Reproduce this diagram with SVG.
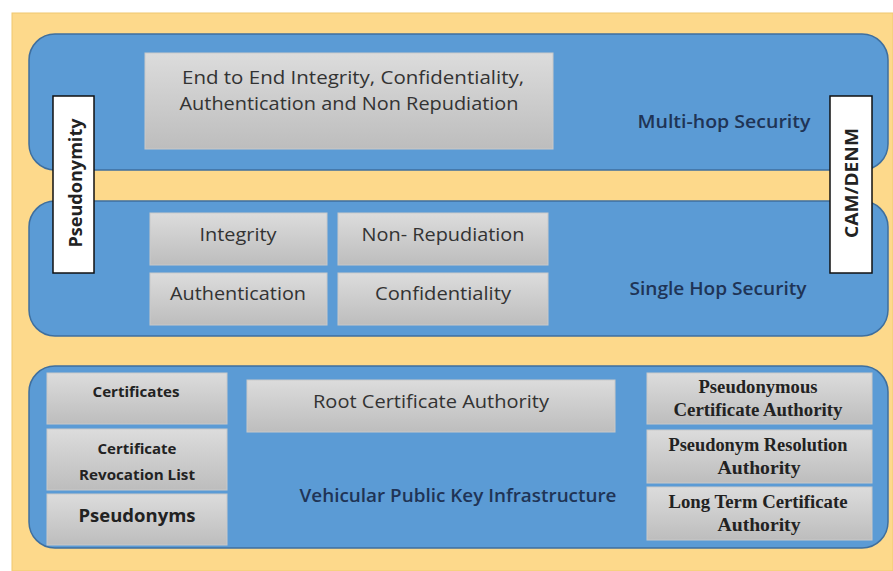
<svg xmlns="http://www.w3.org/2000/svg" width="893" height="571" viewBox="0 0 893 571">
<defs>
<linearGradient id="gray" x1="0" y1="0" x2="0" y2="1">
<stop offset="0" stop-color="#dcdcdc"/>
<stop offset="1" stop-color="#bdbdbd"/>
</linearGradient>
<style>
.layer{fill:#5b9bd5;stroke:#3f6f9e;stroke-width:1.5}
.box{fill:url(#gray);stroke:#c9c9c9;stroke-width:1}
.side{fill:#ffffff;stroke:#111;stroke-width:1.5}
.t{font-family:"Open Sans",sans-serif;fill:#333;text-anchor:middle;font-size:18px}
.lbl{font-family:"Open Sans",sans-serif;font-weight:600;fill:#1f3456;text-anchor:middle;font-size:17.5px}
.b{font-family:"Open Sans",sans-serif;font-weight:bold;fill:#222;text-anchor:middle}
.s{font-family:"Liberation Serif",serif;font-weight:bold;fill:#222;text-anchor:middle;font-size:18px}
</style>
</defs>
<rect x="0" y="0" width="893" height="571" fill="#ffffff"/>
<rect x="12" y="13" width="881" height="558" fill="#fdd98b" stroke="#f0c870" stroke-width="1"/>

<g id="multihop">
<rect class="layer" x="29" y="34" width="859" height="136" rx="26"/>
<text class="lbl" x="724" y="128" textLength="173" lengthAdjust="spacingAndGlyphs">Multi-hop Security</text>
</g>
<g id="e2e">
<rect class="box" x="145" y="53" width="408" height="96"/>
<text class="t" x="353" y="84" textLength="342" lengthAdjust="spacingAndGlyphs">End to End Integrity, Confidentiality,</text>
<text class="t" x="349" y="110" textLength="339" lengthAdjust="spacingAndGlyphs">Authentication and Non Repudiation</text>
</g>

<g id="singlehop">
<rect class="layer" x="29" y="201" width="859" height="135" rx="26"/>
<text class="lbl" x="718" y="295" textLength="177" lengthAdjust="spacingAndGlyphs">Single Hop Security</text>
</g>
<g id="integrity">
<rect class="box" x="150" y="213" width="177" height="52"/>
<text class="t" x="238" y="241" textLength="77" lengthAdjust="spacingAndGlyphs">Integrity</text>
</g>
<g id="nonrep">
<rect class="box" x="338" y="213" width="210" height="52"/>
<text class="t" x="443" y="241" textLength="163" lengthAdjust="spacingAndGlyphs">Non- Repudiation</text>
</g>
<g id="auth">
<rect class="box" x="150" y="273" width="177" height="52"/>
<text class="t" x="238" y="300" textLength="136" lengthAdjust="spacingAndGlyphs">Authentication</text>
</g>
<g id="conf">
<rect class="box" x="338" y="273" width="210" height="52"/>
<text class="t" x="443" y="300" textLength="136" lengthAdjust="spacingAndGlyphs">Confidentiality</text>
</g>

<g id="pseudonymity">
<rect class="side" x="53" y="96" width="41" height="177"/>
<text class="b" font-size="18" transform="translate(82 183) rotate(-90)" textLength="129" lengthAdjust="spacingAndGlyphs">Pseudonymity</text>
</g>
<g id="camdenm">
<rect class="side" x="830" y="96" width="42" height="177"/>
<text class="b" font-size="18" transform="translate(858 183) rotate(-90)" textLength="110" lengthAdjust="spacingAndGlyphs">CAM/DENM</text>
</g>

<g id="vpki">
<rect class="layer" x="29" y="366" width="859" height="182" rx="26"/>
<text class="lbl" x="458" y="502" textLength="317" lengthAdjust="spacingAndGlyphs">Vehicular Public Key Infrastructure</text>
</g>
<g id="certificates">
<rect class="box" x="47" y="373" width="180" height="51"/>
<text class="b" x="136" y="397" font-size="15" textLength="87" lengthAdjust="spacingAndGlyphs">Certificates</text>
</g>
<g id="crl">
<rect class="box" x="47" y="429" width="180" height="61"/>
<text class="b" x="137" y="454" font-size="15" textLength="79" lengthAdjust="spacingAndGlyphs">Certificate</text>
<text class="b" x="137" y="480" font-size="15" textLength="116" lengthAdjust="spacingAndGlyphs">Revocation List</text>
</g>
<g id="pseudonyms">
<rect class="box" x="47" y="494" width="180" height="51"/>
<text class="b" x="137" y="522" font-size="18" textLength="117" lengthAdjust="spacingAndGlyphs">Pseudonyms</text>
</g>
<g id="rootca">
<rect class="box" x="247" y="380" width="368" height="52"/>
<text class="t" x="431" y="408" textLength="236" lengthAdjust="spacingAndGlyphs">Root Certificate Authority</text>
</g>
<g id="pca">
<rect class="box" x="647" y="373" width="225" height="51"/>
<text class="s" x="758" y="393" textLength="119" lengthAdjust="spacingAndGlyphs">Pseudonymous</text>
<text class="s" x="758" y="416" textLength="169" lengthAdjust="spacingAndGlyphs">Certificate Authority</text>
</g>
<g id="pra">
<rect class="box" x="647" y="430" width="225" height="53"/>
<text class="s" x="758" y="451" textLength="179" lengthAdjust="spacingAndGlyphs">Pseudonym Resolution</text>
<text class="s" x="759" y="474" textLength="83" lengthAdjust="spacingAndGlyphs">Authority</text>
</g>
<g id="ltca">
<rect class="box" x="647" y="487" width="225" height="53"/>
<text class="s" x="758" y="508" textLength="179" lengthAdjust="spacingAndGlyphs">Long Term Certificate</text>
<text class="s" x="759" y="531" textLength="83" lengthAdjust="spacingAndGlyphs">Authority</text>
</g>
<g id="connectors"></g>
</svg>
